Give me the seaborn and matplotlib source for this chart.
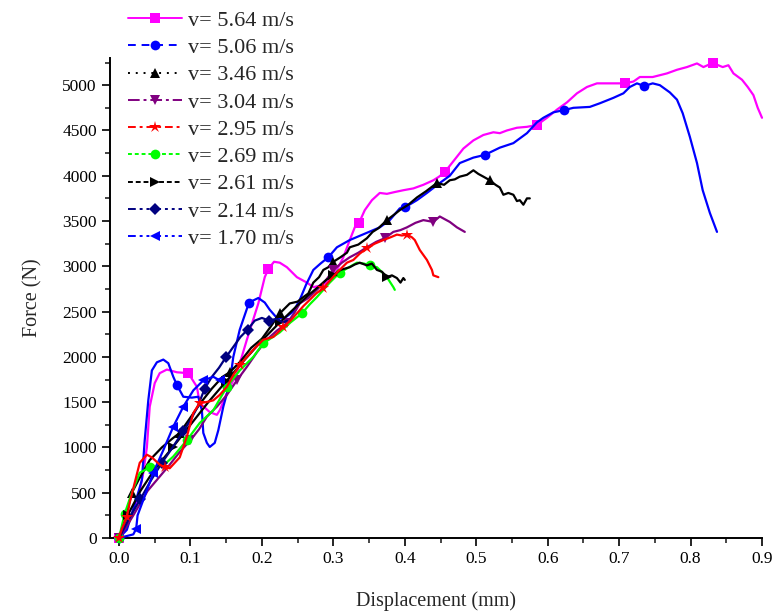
import numpy as np
import matplotlib
matplotlib.use('Agg')
import matplotlib.pyplot as plt
from matplotlib.lines import Line2D
from matplotlib.ticker import MultipleLocator
import seaborn as sns

# 곡선 데이터
labels = ['v= 5.64 m/s', 'v= 5.06 m/s', 'v= 3.46 m/s', 'v= 3.04 m/s', 'v= 2.95 m/s',
          'v= 2.69 m/s', 'v= 2.61 m/s', 'v= 2.14 m/s', 'v= 1.70 m/s']

x_564 = [0, 0.012, 0.022, 0.03, 0.034, 0.039, 0.043, 0.05, 0.057, 0.067,
         0.081, 0.097, 0.109, 0.113, 0.127, 0.137, 0.141, 0.151, 0.165, 0.179,
         0.195, 0.204, 0.209, 0.217, 0.225, 0.235, 0.249, 0.263, 0.272, 0.284,
         0.295, 0.305, 0.314, 0.323, 0.33, 0.336, 0.344, 0.354, 0.365, 0.375,
         0.386, 0.398, 0.412, 0.426, 0.44, 0.448, 0.456, 0.465, 0.473, 0.482,
         0.496, 0.51, 0.524, 0.533, 0.543, 0.557, 0.571, 0.585, 0.599, 0.613,
         0.627, 0.641, 0.655, 0.669, 0.687, 0.708, 0.72, 0.729, 0.747, 0.757,
         0.767, 0.781, 0.795, 0.809, 0.818, 0.831, 0.845, 0.853, 0.86, 0.872,
         0.88, 0.888, 0.894, 0.9]
y_564 = [0, 150, 330, 560, 720, 1000, 1450, 1710, 1820, 1860,
         1830, 1820, 1670, 1490, 1390, 1360, 1410, 1600, 1820, 2190,
         2590, 2880, 2970, 3050, 3040, 2990, 2880, 2820, 2770, 2790,
         2850, 2960, 3100, 3290, 3430, 3480, 3620, 3730, 3810, 3800,
         3820, 3840, 3860, 3900, 3950, 3990, 4040, 4130, 4210, 4300,
         4390, 4450, 4480, 4470, 4500, 4530, 4540, 4560, 4640, 4730,
         4810, 4910, 4980, 5020, 5020, 5020, 5040, 5090, 5090, 5110,
         5130, 5170, 5200, 5240, 5200, 5245, 5200, 5220, 5130, 5060,
         4980, 4890, 4750, 4640]
mk_564 = [0, 0.097, 0.209, 0.336, 0.456, 0.585, 0.708, 0.831]

x_506 = [0, 0.011, 0.025, 0.032, 0.036, 0.041, 0.046, 0.053, 0.062, 0.069,
         0.076, 0.081, 0.09, 0.102, 0.111, 0.116, 0.118, 0.123, 0.127, 0.134,
         0.139, 0.146, 0.155, 0.16, 0.169, 0.182, 0.195, 0.204, 0.211, 0.221,
         0.232, 0.244, 0.253, 0.262, 0.272, 0.282, 0.293, 0.305, 0.323, 0.347,
         0.365, 0.379, 0.393, 0.40, 0.417, 0.431, 0.449, 0.463, 0.477, 0.496,
         0.512, 0.533, 0.552, 0.571, 0.585, 0.594, 0.608, 0.623, 0.636, 0.659,
         0.673, 0.692, 0.706, 0.715, 0.725, 0.735, 0.747, 0.757, 0.771, 0.781,
         0.789, 0.799, 0.809, 0.817, 0.827, 0.837]
y_506 = [0, 90, 450, 640, 1080, 1520, 1850, 1940, 1970, 1930,
         1780, 1690, 1560, 1550, 1560, 1410, 1160, 1050, 1005, 1050,
         1190, 1450, 1710, 2000, 2300, 2600, 2650, 2600, 2520, 2430,
         2430, 2500, 2630, 2800, 2960, 3030, 3100, 3210, 3290, 3370,
         3430, 3510, 3640, 3650, 3730, 3810, 3920, 4000, 4140, 4200,
         4230, 4310, 4360, 4470, 4590, 4640, 4700, 4725, 4750, 4760,
         4800, 4860, 4910, 4980, 5020, 4990, 5020, 5000, 4920, 4840,
         4690, 4430, 4140, 3840, 3590, 3380]
mk_506 = [0, 0.081, 0.182, 0.293, 0.40, 0.512, 0.623, 0.735]

x_346 = [0, 0.011, 0.018, 0.028, 0.043, 0.06, 0.075, 0.085, 0.1, 0.115,
         0.13, 0.145, 0.155, 0.17, 0.185, 0.2, 0.212, 0.225, 0.239, 0.25,
         0.258, 0.265, 0.272, 0.28, 0.286, 0.293, 0.30, 0.31, 0.319, 0.323,
         0.335, 0.347, 0.355, 0.363, 0.375, 0.385, 0.393, 0.405, 0.417, 0.43,
         0.445, 0.455, 0.463, 0.47, 0.477, 0.487, 0.496, 0.503, 0.51, 0.519,
         0.527, 0.533, 0.538, 0.545, 0.552, 0.557, 0.561, 0.566, 0.571, 0.575]
y_346 = [0, 280, 500, 650, 860, 1000, 1100, 1160, 1330, 1500,
         1650, 1780, 1830, 1950, 2100, 2200, 2330, 2480, 2590, 2610,
         2660, 2700, 2820, 2880, 2960, 2990, 3050, 3100, 3150, 3210,
         3240, 3310, 3380, 3420, 3510, 3570, 3620, 3680, 3760, 3830,
         3920, 3900, 3950, 3960, 3990, 4010, 4060, 4020, 3990, 3950,
         3900, 3870, 3790, 3810, 3790, 3720, 3730, 3680, 3750, 3750]
mk_346 = [0.018, 0.085, 0.155, 0.225, 0.30, 0.375, 0.445, 0.519]

x_304 = [0, 0.01, 0.02, 0.04, 0.07, 0.085, 0.1, 0.112, 0.123, 0.137,
         0.151, 0.165, 0.179, 0.193, 0.207, 0.221, 0.235, 0.245, 0.253, 0.265,
         0.277, 0.29, 0.3, 0.312, 0.323, 0.335, 0.347, 0.36, 0.372, 0.384,
         0.394, 0.403, 0.415, 0.426, 0.44, 0.449, 0.456, 0.463, 0.473, 0.484]
y_304 = [0, 120, 250, 520, 800, 950, 1080, 1200, 1340, 1450,
         1580, 1740, 1890, 2050, 2190, 2290, 2370, 2480, 2590, 2650,
         2740, 2850, 2960, 3040, 3100, 3150, 3210, 3270, 3310, 3380,
         3400, 3430, 3480, 3510, 3490, 3550, 3520, 3490, 3430, 3380]
mk_304 = [0, 0.1, 0.165, 0.235, 0.3, 0.372, 0.44]

x_295 = [0, 0.004, 0.011, 0.015, 0.022, 0.029, 0.039, 0.046, 0.057, 0.064,
         0.071, 0.085, 0.095, 0.104, 0.113, 0.122, 0.132, 0.141, 0.151, 0.16,
         0.169, 0.178, 0.188, 0.202, 0.216, 0.23, 0.24, 0.249, 0.258, 0.267,
         0.276, 0.286, 0.295, 0.305, 0.319, 0.328, 0.337, 0.347, 0.358, 0.37,
         0.38, 0.389, 0.396, 0.403, 0.41, 0.414, 0.421, 0.431, 0.438, 0.44,
         0.447]
y_295 = [0, 100, 230, 390, 610, 830, 920, 890, 810, 780,
         770, 890, 1120, 1380, 1490, 1500, 1520, 1580, 1670, 1800,
         1910, 1990, 2080, 2190, 2220, 2330, 2400, 2480, 2560, 2630,
         2700, 2760, 2840, 2930, 3040, 3070, 3140, 3200, 3250, 3290,
         3320, 3350, 3340, 3350, 3320, 3290, 3180, 3070, 2960, 2900,
         2880]
mk_295 = [0, 0.011, 0.064, 0.113, 0.169, 0.23, 0.286, 0.347, 0.403]

x_269 = [0, 0.008, 0.018, 0.029, 0.043, 0.062, 0.076, 0.095, 0.113, 0.132,
         0.151, 0.169, 0.188, 0.202, 0.225, 0.24, 0.256, 0.267, 0.277, 0.295,
         0.309, 0.322, 0.333, 0.343, 0.351, 0.361, 0.365, 0.375, 0.384, 0.386]
y_269 = [0, 270, 500, 720, 780, 800, 900, 1080, 1270, 1410,
         1670, 1850, 2000, 2150, 2270, 2380, 2480, 2580, 2660, 2820,
         2930, 2990, 3040, 3030, 3010, 2990, 2960, 2880, 2770, 2740]
mk_269 = [0, 0.008, 0.043, 0.095, 0.151, 0.202, 0.256, 0.309, 0.351]

x_261 = [0, 0.012, 0.03, 0.05, 0.075, 0.1, 0.125, 0.15, 0.175, 0.2,
         0.225, 0.25, 0.265, 0.28, 0.29, 0.3, 0.31, 0.323, 0.33, 0.337,
         0.347, 0.354, 0.361, 0.368, 0.375, 0.382, 0.389, 0.394, 0.398, 0.40]
y_261 = [0, 250, 520, 760, 1000, 1250, 1500, 1730, 1960, 2180,
         2380, 2570, 2680, 2780, 2850, 2900, 2960, 2990, 3020, 3040,
         3010, 3030, 2960, 2940, 2880, 2900, 2870, 2820, 2870, 2850]
mk_261 = [0.012, 0.075, 0.15, 0.225, 0.3, 0.375]

x_214 = [0, 0.015, 0.03, 0.045, 0.06, 0.075, 0.09, 0.1, 0.11, 0.12,
         0.13, 0.14, 0.15, 0.16, 0.17, 0.18, 0.19, 0.2, 0.21, 0.22,
         0.23, 0.235]
y_214 = [0, 230, 430, 640, 830, 1000, 1180, 1300, 1450, 1650,
         1780, 1880, 2000, 2110, 2220, 2300, 2400, 2430, 2400, 2420,
         2380, 2400]
mk_214 = [0.03, 0.06, 0.09, 0.12, 0.15, 0.18, 0.21]

x_170 = [0, 0.01, 0.02, 0.024, 0.026, 0.034, 0.048, 0.062, 0.076, 0.09,
         0.104, 0.118, 0.132, 0.141]
y_170 = [0, 20, 40, 100, 250, 420, 720, 970, 1230, 1450,
         1630, 1740, 1780, 1740]
mk_170 = [0.024, 0.048, 0.076, 0.09, 0.118, 0.141]

xs = [x_564, x_506, x_346, x_304, x_295, x_269, x_261, x_214, x_170]
ys = [y_564, y_506, y_346, y_304, y_295, y_269, y_261, y_214, y_170]
mks = [mk_564, mk_506, mk_346, mk_304, mk_295, mk_269, mk_261, mk_214, mk_170]

# 스타일
colors = ['#FF00FF', '#0000FF', '#000000', '#800080', '#FF0000',
          '#00FF00', '#000000', '#000080', '#0000FF']
markers = ['s', 'o', '^', 'v', '*', 'o', '>', 'D', '<']
msizes = [7, 7, 7, 7, 9, 7, 7, 6, 7]
dashes = ['-', (0, (4, 3)), (0, (1, 3)), (0, (6, 2, 1.5, 2)), (0, (4, 2, 1.5, 2)),
          (0, (2, 1.5)), (0, (2.5, 1.5)), (0, (4, 2, 1.5, 2, 1.5, 2)), (0, (4, 2, 1.5, 2, 1.5, 2))]

sns.set_style('ticks')
plt.rcParams['font.family'] = ['Liberation Serif', 'DejaVu Serif']

fig = plt.figure(figsize=(7.77, 6.12), dpi=100)
ax = fig.add_axes([110 / 777, 1 - 538 / 612, (762 - 110) / 777, (538 - 58) / 612])

for i in range(len(xs)):
    xa = np.array(xs[i])
    idx = [int(np.argmin(np.abs(xa - m))) for m in mks[i]]
    sns.lineplot(x=xs[i], y=ys[i], ax=ax, color=colors[i], linewidth=1.6,
                 marker=markers[i], markevery=idx, markersize=msizes[i],
                 markeredgewidth=0, sort=False, estimator=None, legend=False,
                 clip_on=False, zorder=3 + (2 if i == 4 else 0))

ax.set_xlim(-0.0126, 0.9)
ax.set_ylim(0, 5300)
ax.xaxis.set_minor_locator(MultipleLocator(0.05))
ax.yaxis.set_major_locator(MultipleLocator(500))
ax.yaxis.set_minor_locator(MultipleLocator(250))
ax.set_xticks(np.arange(0, 0.91, 0.1))
ax.set_xticklabels(['0.0', '0.1', '0.2', '0.3', '0.4', '0.5', '0.6', '0.7', '0.8', '0.9'])
ax.tick_params(axis='both', which='major', direction='out', length=6, width=1.2,
               labelsize=12.5, colors='black')
ax.tick_params(axis='both', which='minor', direction='out', length=3.5, width=1.2)
for s in ['top', 'right']:
    ax.spines[s].set_visible(False)
for s in ['left', 'bottom']:
    ax.spines[s].set_linewidth(1.4)
    ax.spines[s].set_color('black')

ax.set_xlabel('Displacement (mm)', fontsize=14.5, labelpad=17)
ax.set_ylabel('Force (N)', fontsize=14.5, labelpad=14)

handles = [Line2D([], [], color=colors[i], linestyle=dashes[i], linewidth=1.4,
                  marker=markers[i], markersize=msizes[i], markeredgewidth=0)
           for i in range(len(labels))]
fig.legend(handles, labels, loc='upper left', bbox_to_anchor=(124 / 777, 1 - 6 / 612),
           frameon=False, fontsize=16, handlelength=2.4, handletextpad=0.27,
           labelspacing=0.3, borderaxespad=0, borderpad=0.2)

plt.savefig('out.png', dpi=100)
plt.close()
